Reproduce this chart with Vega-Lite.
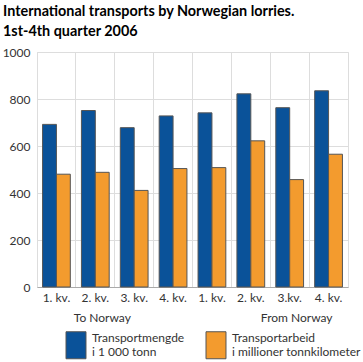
{
  "$schema": "https://vega.github.io/schema/vega-lite/v6.json",
  "width": 311,
  "height": 235,
  "autosize": {"type": "none"},
  "padding": {"left": 37, "top": 52, "right": 15, "bottom": 75},
  "config": {"font": "Lato", "view": {"stroke": "#dddddd"}},
  "title": {
    "text": ["International transports by Norwegian lorries.", "1st-4th quarter 2006"],
    "anchor": "start",
    "frame": "group",
    "dx": -34,
    "offset": 7,
    "fontSize": 14.4,
    "fontWeight": "bold",
    "color": "#000000",
    "lineHeight": 19.5
  },
  "datasets": {
    "bars": [
      {"key": "To|1. kv.", "series": "Transportmengde|i 1 000 tonn", "value": 692},
      {"key": "To|2. kv.", "series": "Transportmengde|i 1 000 tonn", "value": 751},
      {"key": "To|3. kv.", "series": "Transportmengde|i 1 000 tonn", "value": 678},
      {"key": "To|4. kv.", "series": "Transportmengde|i 1 000 tonn", "value": 728},
      {"key": "From|1. kv.", "series": "Transportmengde|i 1 000 tonn", "value": 741},
      {"key": "From|2. kv.", "series": "Transportmengde|i 1 000 tonn", "value": 822},
      {"key": "From|3.kv.", "series": "Transportmengde|i 1 000 tonn", "value": 763},
      {"key": "From|4. kv.", "series": "Transportmengde|i 1 000 tonn", "value": 835},
      {"key": "To|1. kv.", "series": "Transportarbeid|i millioner tonnkilometer", "value": 480},
      {"key": "To|2. kv.", "series": "Transportarbeid|i millioner tonnkilometer", "value": 488},
      {"key": "To|3. kv.", "series": "Transportarbeid|i millioner tonnkilometer", "value": 411},
      {"key": "To|4. kv.", "series": "Transportarbeid|i millioner tonnkilometer", "value": 504},
      {"key": "From|1. kv.", "series": "Transportarbeid|i millioner tonnkilometer", "value": 508},
      {"key": "From|2. kv.", "series": "Transportarbeid|i millioner tonnkilometer", "value": 622},
      {"key": "From|3.kv.", "series": "Transportarbeid|i millioner tonnkilometer", "value": 457},
      {"key": "From|4. kv.", "series": "Transportarbeid|i millioner tonnkilometer", "value": 565}
    ],
    "groups": [
      {"key": "To|2. kv.", "label": "To Norway"},
      {"key": "From|3.kv.", "label": "From Norway"}
    ]
  },
  "layer": [
    {
      "data": {"name": "bars"},
      "mark": {"type": "bar", "stroke": "#555555", "strokeWidth": 1},
      "encoding": {
        "x": {
          "field": "key",
          "type": "nominal",
          "sort": ["To|1. kv.", "To|2. kv.", "To|3. kv.", "To|4. kv.", "From|1. kv.", "From|2. kv.", "From|3.kv.", "From|4. kv."],
          "scale": {"paddingInner": 0, "paddingOuter": 0},
          "axis": {
            "title": null,
            "labelExpr": "split(datum.label, '|')[1]",
            "labelAngle": 0,
            "ticks": false,
            "domain": true,
            "domainColor": "#aaaaaa",
            "grid": true,
            "gridColor": "#dddddd",
            "bandPosition": 0,
            "labelFontSize": 12,
            "labelColor": "#333333",
            "labelPadding": 5
          }
        },
        "xOffset": {
          "field": "series",
          "type": "nominal",
          "sort": ["Transportmengde|i 1 000 tonn", "Transportarbeid|i millioner tonnkilometer"],
          "scale": {"paddingInner": 0, "paddingOuter": 0.4}
        },
        "y": {
          "field": "value",
          "type": "quantitative",
          "scale": {"domain": [0, 1000]},
          "axis": {
            "title": null,
            "values": [0, 200, 400, 600, 800, 1000],
            "format": "d",
            "domain": false,
            "ticks": false,
            "gridColor": "#dddddd",
            "labelFontSize": 12,
            "labelColor": "#333333",
            "labelPadding": 7
          }
        },
        "color": {
          "field": "series",
          "type": "nominal",
          "sort": ["Transportmengde|i 1 000 tonn", "Transportarbeid|i millioner tonnkilometer"],
          "scale": {"range": ["#0a5299", "#f39b2e"]},
          "legend": {
            "title": null,
            "orient": "none",
            "legendX": 25,
            "legendY": 279,
            "direction": "horizontal",
            "columns": 2,
            "columnPadding": 17,
            "symbolType": "M-0.74,-1L0.74,-1L0.74,1L-0.74,1Z",
            "symbolSize": 729,
            "symbolStrokeColor": "#555555",
            "symbolStrokeWidth": 1,
            "labelExpr": "split(datum.label, '|')",
            "labelFontSize": 12,
            "labelLineHeight": 14.5,
            "labelBaseline": "bottom",
            "labelColor": "#333333",
            "labelLimit": 200,
            "labelOffset": 2
          }
        }
      }
    },
    {
      "data": {"name": "groups"},
      "mark": {"type": "text", "dy": 31, "dx": 7, "fontSize": 12, "color": "#333333"},
      "encoding": {
        "x": {
          "field": "key",
          "type": "nominal",
          "sort": ["To|1. kv.", "To|2. kv.", "To|3. kv.", "To|4. kv.", "From|1. kv.", "From|2. kv.", "From|3.kv.", "From|4. kv."]
        },
        "y": {"datum": 0},
        "text": {"field": "label"}
      }
    }
  ]
}
